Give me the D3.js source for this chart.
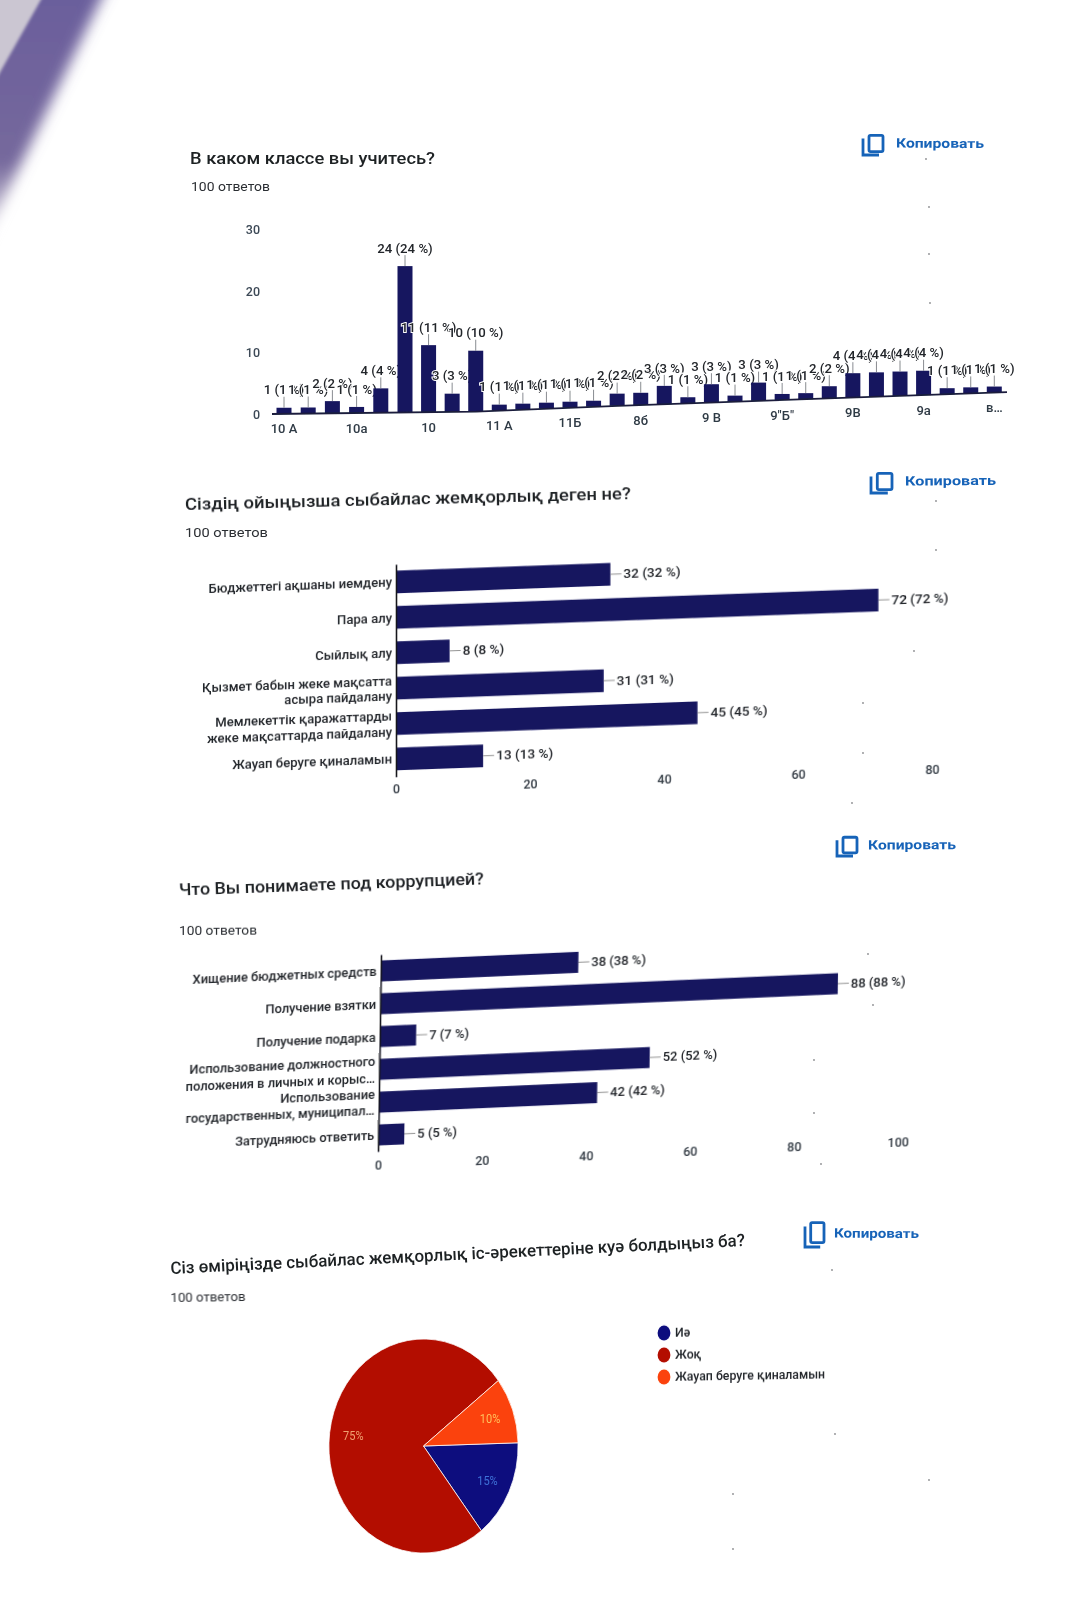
<!DOCTYPE html>
<html><head><meta charset="utf-8">
<style>html,body{margin:0;padding:0;background:#fff}svg{display:block}text{font-family:Roboto,sans-serif}</style>
<script src="https://cdn.jsdelivr.net/npm/d3@7/dist/d3.min.js"></script></head>
<body><svg id="c" width="1082" height="1600"></svg>
<script>
const gradeCategories=["10 А","","","10а","","","10","","","11 А","","","11Б","","","8б","","","9 В","","","9\"Б\"","","","9В","","","9а","","","в…"];
const gradeValues=[1,1,2,1,4,24,11,3,10,1,1,1,1,1,2,2,3,1,3,1,3,1,1,2,4,4,4,4,1,1,1];
const gradeTicks=[0,10,20,30];
const kzCategories=["Бюджеттегі ақшаны иемдену","Пара алу","Сыйлық алу","Қызмет бабын жеке мақсатта\nасыра пайдалану","Мемлекеттік қаражаттарды\nжеке мақсаттарда пайдалану","Жауап беруге қиналамын"];
const kzValues=[32,72,8,31,45,13];
const kzTicks=[0,20,40,60,80];
const ruCategories=["Хищение бюджетных средств","Получение взятки","Получение подарка","Использование должностного\nположения в личных и корыс…","Использование\nгосударственных, муниципал…","Затрудняюсь ответить"];
const ruValues=[38,88,7,52,42,5];
const ruTicks=[0,20,40,60,80,100];
const pieCategories=["Иә","Жоқ","Жауап беруге қиналамын"];
const pieValues=[15,75,10];
const pieColors=["#10107e","#b30e02","#fb4308"];
const pieLabelColors=["#3d6fd8","#f0a070","#ffc060"];
const titles=["В каком классе вы учитесь?","Сіздің ойыңызша сыбайлас жемқорлық деген не?","Что Вы понимаете под коррупцией?","Сіз өміріңізде сыбайлас жемқорлық іс-әрекеттеріне куә болдыңыз ба?"];
const subtitle="100 ответов", copyText="Копировать";
const NAVY="#16165f", INK="#23262b", BLUE="#1763b8";
// dust specks on the photographed sheet
const speckX=[926,929,929,930,936,936,914,863,863,852,868,873,814,814,821,832,835,733,733,929];
const speckY=[159,207,254,303,501,550,651,703,753,803,954,1005,1060,1113,1164,1270,1434,1494,1549,1480];
// the page is warped: baseline of the first chart, sampled along x
const warpX=[253,272,476,618,1007];
const warpY=[414.5,414,411.7,405.8,392.2];

const svg=d3.select("#c");
const defs=svg.append("defs");
defs.append("filter").attr("id","soft").attr("x","-5%").attr("y","-5%").attr("width","110%").attr("height","110%")
  .append("feGaussianBlur").attr("stdDeviation",0.5);
defs.append("filter").attr("id","edge").attr("filterUnits","userSpaceOnUse").attr("x",-100).attr("y",-100).attr("width",400).attr("height",500)
  .append("feGaussianBlur").attr("stdDeviation",7);
defs.append("filter").attr("id","edge2").attr("filterUnits","userSpaceOnUse").attr("x",-100).attr("y",-100).attr("width",400).attr("height",500)
  .append("feGaussianBlur").attr("stdDeviation",1.5);
const lg=defs.append("linearGradient").attr("id","band").attr("gradientUnits","userSpaceOnUse").attr("x1",0).attr("y1",0).attr("x2",0).attr("y2",225);
lg.append("stop").attr("offset","0").attr("stop-color","#6b5f9c");
lg.append("stop").attr("offset","0.72").attr("stop-color","#75689c");
lg.append("stop").attr("offset","1").attr("stop-color","#d5d0dc");

// photographed edge of the sheet, top left
svg.append("path").attr("d","M-60,-40L120,-40L-50,310L-60,310Z").attr("fill","url(#band)").attr("filter","url(#edge)");
svg.append("path").attr("d","M-20,-20L52,-20L-20,108Z").attr("fill","#cbc6d2").attr("filter","url(#edge2)");

svg.selectAll(".speck").data(speckX).join("circle").attr("class","speck").attr("cx",d=>d).attr("cy",(d,i)=>speckY[i]).attr("r",0.9).attr("fill","#8b8d90");

const root=svg.append("g").attr("filter","url(#soft)");

function txt(p,x,y,w,angle,s,size,weight,color){
  return p.append("text").attr("transform",`translate(${x},${y}) rotate(${angle})`).attr("dy",".35em")
   .attr("textLength",w).attr("lengthAdjust","spacingAndGlyphs")
   .attr("font-size",size).attr("font-weight",weight).attr("fill",color).text(s);
}
function copyBtn(ix,iy,w,h,tx,ty,tw,a){
  const g=root.append("g").attr("transform",`translate(${ix},${iy})`).attr("fill","none").attr("stroke",BLUE).attr("stroke-width",2.8);
  const bx=w*0.3, by=h*0.06;
  g.append("rect").attr("x",bx).attr("y",by).attr("width",w-bx).attr("height",h*0.74).attr("rx",1.5);
  g.append("path").attr("d",`M0,${h*0.2}V${h-1}H${w*0.8}`);
  txt(root,tx,ty,tw,a,copyText,13,700,BLUE);
}
function head(i,x1,y1,w,a,sx,sy,sw,sa){
  txt(root,x1,y1,w,a,titles[i],17,500,"#1d2024");
  txt(root,sx,sy,sw,sa,subtitle,12.5,400,"#2b2e33");
}

head(0,190,158,245,0,191,187,79,0);
copyBtn(863,134,20,22,896,143,88,0.3);
head(1,185,504,446,-1.4,185,533,83,0);
copyBtn(871,472,21,22,905,481,91,-0.4);
head(2,179,889.5,305,-2.1,179,931,78,-0.3);
copyBtn(837,836,20,21,868,845,88,-0.3);
head(3,170.5,1268,575,-2.8,170.5,1298,75,-0.8);
copyBtn(805,1221,19,27,834,1233,85,0.3);

// chart 1: column chart on the warped part of the page
(function(){
  const g=root.append("g");
  const warp=d3.scaleLinear().domain(warpX).range(warpY);
  const idx=d3.range(gradeValues.length);
  const cx=d3.scaleLinear().domain([0,5,gradeValues.length-1]).range([284,405,994.3]);
  const barW=15;
  const y=d3.scaleLinear().domain([0,30]).range([0,-183]);
  const yTicks=d3.scaleLinear().domain([0,30]).range([0,-185]);
  const ya=g.append("g").attr("transform",`translate(260,${warp(253)})`).call(d3.axisLeft(yTicks).tickValues(gradeTicks).tickSize(0).tickPadding(0));
  ya.select(".domain").remove();
  ya.selectAll("text").attr("font-size",12.5).attr("fill","#3d4a57").attr("font-family","Roboto").attr("font-weight",500);
  const cols=g.selectAll(".col").data(gradeValues).join("g").attr("class","col").attr("transform",(d,i)=>`translate(${cx(i)},${warp(cx(i))})`);
  cols.append("rect").attr("x",-barW/2).attr("width",barW).attr("y",d=>y(d)).attr("height",d=>-y(d)).attr("fill",NAVY);
  cols.append("line").attr("y1",d=>y(d)).attr("y2",d=>y(d)-11).attr("stroke","#6b6f75").attr("stroke-width",0.8);
  cols.append("text").attr("y",d=>y(d)-18).attr("dy",".35em").attr("text-anchor","middle")
    .attr("font-size",13.2).attr("font-weight",500).attr("fill",INK)
    .attr("stroke","#fff").attr("stroke-width",2).attr("paint-order","stroke")
    .text(d=>`${d} (${d} %)`);
  const base=d3.line().x(d=>d).y(d=>warp(d));
  g.append("path").attr("d",base(warpX.slice(1))).attr("fill","none").attr("stroke","#1a1f3c").attr("stroke-width",1.8);
  const tickIdx=idx.filter(i=>gradeCategories[i]!=="");
  g.selectAll(".xt").data(tickIdx).join("text").attr("class","xt").attr("x",cx).attr("y",i=>warp(cx(i))+15).attr("dy",".35em")
    .attr("text-anchor","middle").attr("font-size",13).attr("fill","#2f3a45").attr("font-weight",500).text(i=>gradeCategories[i]);
})();

// horizontal bars
function hbars(matrix,cats,vals,ticks,maxV,w,step,lineGap,tickPad,labelSize,valueSize){
  const h=step*cats.length;
  const g=root.append("g").attr("transform",matrix);
  const x=d3.scaleLinear().domain([0,maxV]).range([0,w]);
  const y=d3.scaleBand().domain(cats).range([0,h]).paddingInner(0.36).paddingOuter(0.18);
  g.selectAll(".b").data(vals).join("rect").attr("class","b").attr("x",0).attr("y",(d,i)=>y(cats[i]))
    .attr("width",d=>x(d)).attr("height",y.bandwidth()).attr("fill",NAVY);
  g.selectAll(".l").data(vals).join("line").attr("class","l")
    .attr("x1",d=>x(d)).attr("x2",d=>x(d)+11).attr("y1",(d,i)=>y(cats[i])+y.bandwidth()/2).attr("y2",(d,i)=>y(cats[i])+y.bandwidth()/2)
    .attr("stroke","#777").attr("stroke-width",0.8);
  g.selectAll(".t").data(vals).join("text").attr("class","t")
    .attr("x",d=>x(d)+13).attr("y",(d,i)=>y(cats[i])+y.bandwidth()/2).attr("dy",".35em")
    .attr("font-size",valueSize).attr("font-weight",500).attr("fill",INK).text(d=>`${d} (${d} %)`);
  const ya=g.append("g").call(d3.axisLeft(y).tickSize(0).tickSizeOuter(0).tickPadding(4));
  ya.select(".domain").attr("stroke","#14151f").attr("stroke-width",1.6);
  ya.selectAll("text").attr("font-size",labelSize).attr("font-weight",500).attr("fill",INK).attr("font-family","Roboto").each(function(d){
    const sel=d3.select(this), lines=d.split("\n"), xx=sel.attr("x");
    sel.text(null).attr("dy",null);
    lines.forEach((s,k)=>sel.append("tspan").attr("x",xx).attr("y",(k-(lines.length-1)/2)*lineGap).attr("dy",".35em").text(s));
  });
  const xa=g.append("g").attr("transform",`translate(0,${h})`).call(d3.axisBottom(x).tickValues(ticks).tickSize(0).tickPadding(tickPad));
  xa.select(".domain").remove();
  xa.selectAll("text").attr("font-size",12.5).attr("font-weight",500).attr("fill","#333b44").attr("font-family","Roboto");
}
hbars("matrix(1,-0.036,0,1,396,564.3)",kzCategories,kzValues,kzTicks,80,536,35.4,15.7,8,13.1,13.6);
hbars("matrix(1,-0.044,-0.015,1,381,954.6)",ruCategories,ruValues,ruTicks,100,520,32.8,16.5,9,12.9,13);

// pie
(function(){
  const R=107;
  const g=root.append("g").attr("transform","matrix(0.884,0,0,1,423.5,1446)");
  const pie=d3.pie().sort(null).startAngle(Math.PI/2-0.03).endAngle(Math.PI*2.5-0.03);
  const arcs=pie(pieValues);
  const arc=d3.arc().innerRadius(0).outerRadius(R);
  const lab=d3.arc().innerRadius(80).outerRadius(80);
  g.selectAll("path").data(arcs).join("path").attr("d",arc).attr("fill",(d,i)=>pieColors[i]).attr("stroke","#fff").attr("stroke-width",0.8);
  g.selectAll("text").data(arcs).join("text").attr("transform",d=>`translate(${lab.centroid(d)})`)
    .attr("dy",".35em").attr("text-anchor","middle").attr("font-size",12.5).attr("fill",(d,i)=>pieLabelColors[i]).text(d=>d.data+"%");
  // legend
  const lg=root.append("g").attr("transform","matrix(1,-0.016,0,1,0,10.6)");
  const ly=d3.scalePoint().domain(pieCategories).range([1333,1377]);
  lg.selectAll("ellipse").data(pieCategories).join("ellipse").attr("cx",664).attr("cy",d=>ly(d)).attr("rx",6.4).attr("ry",7.5).attr("fill",(d,i)=>pieColors[i]);
  lg.selectAll("text").data(pieCategories).join("text").attr("x",675).attr("y",d=>ly(d)).attr("dy",".35em")
    .attr("font-size",12.3).attr("font-weight",500).attr("fill",INK).text(d=>d);
})();
</script></body></html>
